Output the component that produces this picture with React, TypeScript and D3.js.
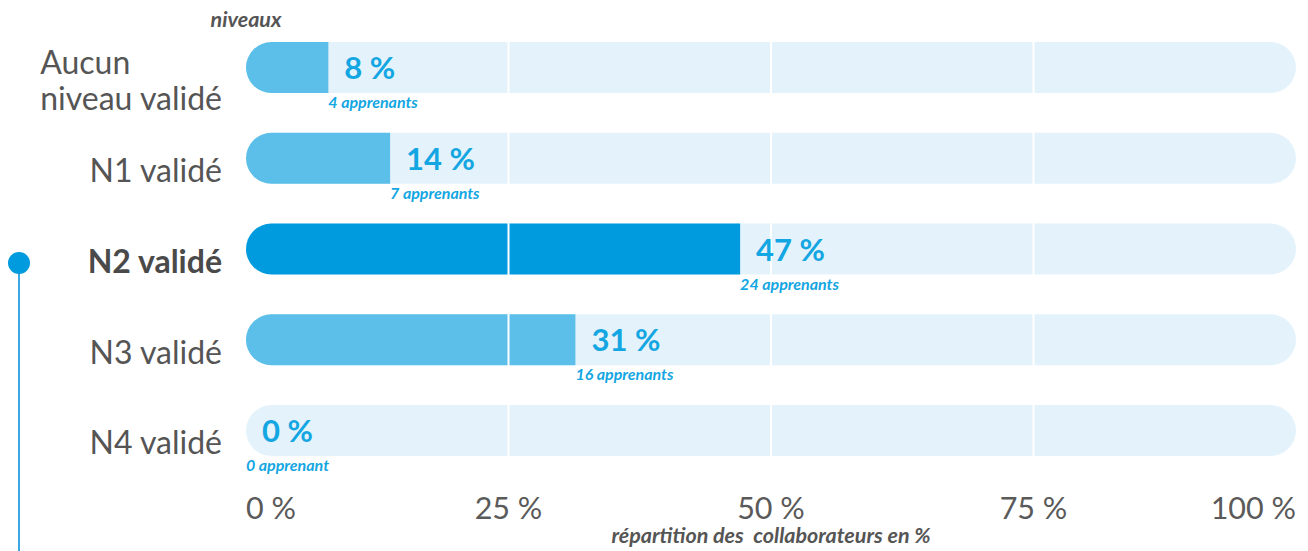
import React, { useLayoutEffect, useRef, useState } from "react";
import * as d3 from "d3";

const categories: string[][] = [["Aucun", "niveau validé"], ["N1 validé"], ["N2 validé"], ["N3 validé"], ["N4 validé"]];
const counts: number[] = [4, 7, 24, 16, 0];
const highlighted: boolean[] = [false, false, true, false, false];
const tickValues: number[] = [0, 25, 50, 75, 100];
const tickLabels: string[] = ["0 %", "25 %", "50 %", "75 %", "100 %"];
const yTitle = "niveaux";
const xTitle = "répartition des  collaborateurs en %";

const W = 1308;
const H = 551;
const FONT = "Lato, 'Open Sans', sans-serif";
const C_BG = "#e4f3fb";
const C_FILL = "#5bbfe9";
const C_HL = "#009bdf";
const C_VAL = "#13a6e2";
const C_TEXT = "#555555";

export default function App() {
  const total = d3.sum(counts);
  const pct = counts.map((c) => (c / total) * 100);
  const x = d3.scaleLinear().domain([0, 100]).range([246, 1296]);
  const keys = categories.map((c) => c.join(" "));
  const y = d3.scaleBand<string>().domain(keys).range([42, 456]).paddingInner(0.438).paddingOuter(0);
  const h = y.bandwidth();
  const r = h / 2;

  const lineRef = useRef<SVGTextElement>(null);
  const [multiStart, setMultiStart] = useState<number>(x(0) - 24 - 180);
  useLayoutEffect(() => {
    if (lineRef.current) {
      const w = lineRef.current.getComputedTextLength();
      setMultiStart(x(0) - 24 - w);
    }
  }, []);

  const fillPath = (v: number, top: number) => {
    const x0 = x(0);
    const x1 = x(v);
    if (x1 - x0 <= 0) return "";
    const p = d3.path();
    p.moveTo(x0 + r, top);
    p.lineTo(x1, top);
    p.lineTo(x1, top + h);
    p.lineTo(x0 + r, top + h);
    p.arc(x0 + r, top + r, r, Math.PI / 2, (3 * Math.PI) / 2);
    p.closePath();
    return p.toString();
  };

  const labelX = x(0) - 24;

  return (
    <svg width={W} height={H} style={{ position: "absolute", left: 0, top: 0, display: "block" }} fontFamily={FONT}>
      {/* left decoration */}
      <line x1={19} x2={19} y1={263} y2={H} stroke="#3aa9e3" strokeWidth={2} />
      <circle cx={19} cy={263} r={11} fill={C_HL} />

      {/* y title */}
      <text x={x(0)} y={27} textAnchor="middle" fontSize={21.5} fontWeight={700} fontStyle="italic" fill={C_TEXT}>
        {yTitle}
      </text>

      {keys.map((k, i) => {
        const top = y(k) as number;
        return (
          <g key={k}>
            <rect x={x(0)} y={top} width={x(100) - x(0)} height={h} rx={r} ry={r} fill={C_BG} />
            <path d={fillPath(pct[i], top)} fill={highlighted[i] ? C_HL : C_FILL} />
          </g>
        );
      })}

      {/* grid lines */}
      {tickValues.slice(1, -1).map((t) => (
        <line key={t} x1={x(t)} x2={x(t)} y1={42} y2={456} stroke="#ffffff" strokeWidth={2} />
      ))}

      {keys.map((k, i) => {
        const top = y(k) as number;
        const cy = top + h / 2;
        const end = x(pct[i]);
        const cat = categories[i];
        return (
          <g key={"l" + k}>
            <text x={end + 16} y={cy + 11.5} fontSize={31} fontWeight={700} fill={C_VAL}>
              {Math.round(pct[i]) + " %"}
            </text>
            <text x={end} y={top + h + 15} fontSize={16} fontWeight={700} fontStyle="italic" fill={C_VAL}>
              {counts[i] + (counts[i] > 1 ? " apprenants" : " apprenant")}
            </text>
            {cat.length === 1 ? (
              <text
                x={labelX}
                y={cy + 24}
                textAnchor="end"
                fontSize={32}
                fontWeight={highlighted[i] ? 700 : 400}
                fill={highlighted[i] ? "#4a4a4a" : C_TEXT}
              >
                {cat[0]}
              </text>
            ) : (
              <g>
                <text x={multiStart} y={cy + 6} fontSize={32} fill={C_TEXT}>
                  {cat[0]}
                </text>
                <text ref={lineRef} x={labelX} y={cy + 42} textAnchor="end" fontSize={32} fill={C_TEXT}>
                  {cat[1]}
                </text>
              </g>
            )}
          </g>
        );
      })}

      {/* x ticks */}
      {tickValues.map((t, i) => (
        <text
          key={"t" + t}
          x={x(t)}
          y={519}
          fontSize={30.5}
          fill="#5a5a5a"
          textAnchor={i === 0 ? "start" : i === tickValues.length - 1 ? "end" : "middle"}
        >
          {tickLabels[i]}
        </text>
      ))}

      <text
        x={x(50)}
        y={543}
        textAnchor="middle"
        fontSize={21.5}
        fontWeight={700}
        fontStyle="italic"
        fill={C_TEXT}
        style={{ whiteSpace: "pre" }}
      >
        {xTitle}
      </text>
    </svg>
  );
}
